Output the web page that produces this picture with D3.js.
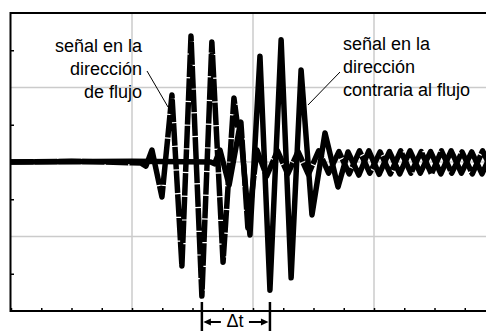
<!DOCTYPE html>
<html>
<head>
<meta charset="utf-8">
<script src="https://cdn.jsdelivr.net/npm/d3@7"></script>
<style>
  html, body { margin: 0; padding: 0; background: #fff; }
  svg { display: block; }
  text { font-family: "Liberation Sans", Arial, sans-serif; fill: #000; }
</style>
</head>
<body>
<svg id="chart" width="486" height="331"></svg>
<script>
// ---- data (time in µs, amplitude in mV) ----
const flowTime = [0, 20, 40, 43, 44.6, 46.6, 49.9, 53.2, 56.5, 59.5, 63.1, 66.4, 70.1, 73.7, 75.0, 76.0, 78.3,
  81.3, 84.5, 88.1, 91.5, 94.9, 98.3, 101.7, 105.0, 108.4, 111.8, 115.2, 118.6, 122.0, 125.4, 128.8, 132.2,
  135.6, 139.0, 142.3, 145.7, 149.1, 152.5, 155.9, 159.3, 160];
const flowValues = [0, 2, -2, -3, -11, 32, -94, 180, -279, 338, -360, 322, -269, 172, 91, 107, -177,
  32, -38, 30, -32, 28, -33, 30, -30, 28, -32, 30, -30, 27, -32, 30, -30,
  28, -32, 30, -30, 27, -32, 30, -28, -20];

const counterTime = [0, 40, 66, 67.3, 69.1, 72.1, 75.7, 79.0, 82.3, 85.6, 89.3, 92.6, 95.9, 99.5, 103.8, 108.1,
  111.4, 115.0, 118.3, 121.7, 125.1, 128.5, 131.9, 135.3, 138.7, 142.1, 145.5, 148.9, 152.3, 155.7, 159.1, 160];
const counterValues = [0, 2, 0, -5, 32, -62, 99, -196, 284, -344, 328, -311, 247, -142, 78, -67,
  27, -35, 30, -33, 28, -32, 30, -30, 28, -32, 30, -30, 27, -32, 28, 20];

const xTicks = [0, 10, 20, 30, 40, 50, 60, 70, 80, 90, 100, 110, 120, 130, 140, 150, 160];
const xGrid = [40, 80, 120];
const yTicks = [-300, -100, 100, 300];
const yGrid = [-200, 0, 200];

const leftLabel = ["señal en la", "dirección", "de flujo"];
const rightLabel = ["señal en la", "dirección", "contraria al flujo"];
const deltaLabel = "Δt";
const deltaStart = 63.1;   // trough of flow-direction signal
const deltaEnd = 85.6;     // trough of counter-flow signal

// ---- layout ----
const svg = d3.select("#chart");
const pL = 11, pR = 495, pT = 13, pB = 311;
const x = d3.scaleLinear().domain([0, 160]).range([pL, pR]);
const y = d3.scaleLinear().domain([-400, 400]).range([pB, pT]);

// grid
svg.append("g").selectAll("line").data(xGrid).join("line")
  .attr("x1", d => x(d)).attr("x2", d => x(d)).attr("y1", pT).attr("y2", pB)
  .attr("stroke", "#cbcbcb").attr("stroke-width", 1.5);
svg.append("g").selectAll("line").data(yGrid).join("line")
  .attr("x1", pL).attr("x2", pR).attr("y1", d => y(d)).attr("y2", d => y(d))
  .attr("stroke", "#cbcbcb").attr("stroke-width", 1.5);

// axes
const xAxis = svg.append("g").attr("transform", `translate(0,${pB})`)
  .call(d3.axisBottom(x).tickValues(xTicks).tickSize(-3).tickFormat(""));
const yAxis = svg.append("g").attr("transform", `translate(${pL},0)`)
  .call(d3.axisLeft(y).tickValues(yTicks).tickSize(-3).tickFormat(""));
[xAxis, yAxis].forEach(g => {
  g.select(".domain").remove();
  g.selectAll(".tick line").attr("stroke", "#000").attr("stroke-width", 1.5);
});
// frame lines
svg.append("line").attr("x1", pL - 1).attr("x2", 486).attr("y1", pB).attr("y2", pB)
  .attr("stroke", "#000").attr("stroke-width", 2);
svg.append("line").attr("x1", pL - 1).attr("x2", 486).attr("y1", pT).attr("y2", pT)
  .attr("stroke", "#000").attr("stroke-width", 2);
svg.append("line").attr("x1", pL - 0.5).attr("x2", pL - 0.5).attr("y1", pT - 1).attr("y2", pB + 1)
  .attr("stroke", "#000").attr("stroke-width", 2);

// signals
svg.append("clipPath").attr("id", "plotclip").append("rect")
  .attr("x", pL).attr("y", 0).attr("width", pR - pL).attr("height", 331);
const line = d3.line().x(d => x(d[0])).y(d => y(d[1])).curve(d3.curveLinear);
const counterData = counterTime.map((t, i) => [t, counterValues[i]]);
const flowData = flowTime.map((t, i) => [t, flowValues[i]]);

svg.append("path").datum(counterData).attr("d", line)
  .attr("clip-path", "url(#plotclip)")
  .attr("fill", "none").attr("stroke", "#000").attr("stroke-width", 5.5)
  .attr("stroke-linejoin", "round").attr("stroke-linecap", "round");
svg.append("path").datum(flowData).attr("d", line)
  .attr("clip-path", "url(#plotclip)")
  .attr("fill", "none").attr("stroke", "#000").attr("stroke-width", 5.5)
  .attr("stroke-linejoin", "round").attr("stroke-dasharray", "22.5,1.2");

// labels
const lt = svg.append("text").attr("font-size", 18).attr("text-anchor", "end");
leftLabel.forEach((s, i) => lt.append("tspan").attr("x", 142).attr("y", 52 + i * 23).text(s));
const rt = svg.append("text").attr("font-size", 18).attr("text-anchor", "start");
rightLabel.forEach((s, i) => rt.append("tspan").attr("x", 343).attr("y", 50 + i * 23).text(s));

// leader lines
svg.append("line").attr("x1", 147).attr("y1", 71).attr("x2", 168).attr("y2", 107)
  .attr("stroke", "#000").attr("stroke-width", 1);
svg.append("line").attr("x1", 340).attr("y1", 72).attr("x2", 308).attr("y2", 105)
  .attr("stroke", "#000").attr("stroke-width", 1);

// Δt annotation
const xa = x(deltaStart), xb = x(deltaEnd), ay = 322;
[xa, xb].forEach(xx => svg.append("line").attr("x1", xx).attr("x2", xx).attr("y1", 302).attr("y2", 331)
  .attr("stroke", "#000").attr("stroke-width", 2.5));
svg.append("line").attr("x1", xa + 7).attr("x2", xa + 19).attr("y1", ay).attr("y2", ay)
  .attr("stroke", "#000").attr("stroke-width", 2);
svg.append("path").attr("d", `M${xa + 1.5},${ay} L${xa + 9},${ay - 3.5} L${xa + 9},${ay + 3.5} Z`).attr("fill", "#000");
svg.append("line").attr("x1", xb - 21).attr("x2", xb - 7).attr("y1", ay).attr("y2", ay)
  .attr("stroke", "#000").attr("stroke-width", 2);
svg.append("path").attr("d", `M${xb - 1.5},${ay} L${xb - 9},${ay - 3.5} L${xb - 9},${ay + 3.5} Z`).attr("fill", "#000");
svg.append("text").attr("x", (xa + xb) / 2 - 1).attr("y", 327).attr("font-size", 18)
  .attr("text-anchor", "middle").text(deltaLabel);
</script>
</body>
</html>
